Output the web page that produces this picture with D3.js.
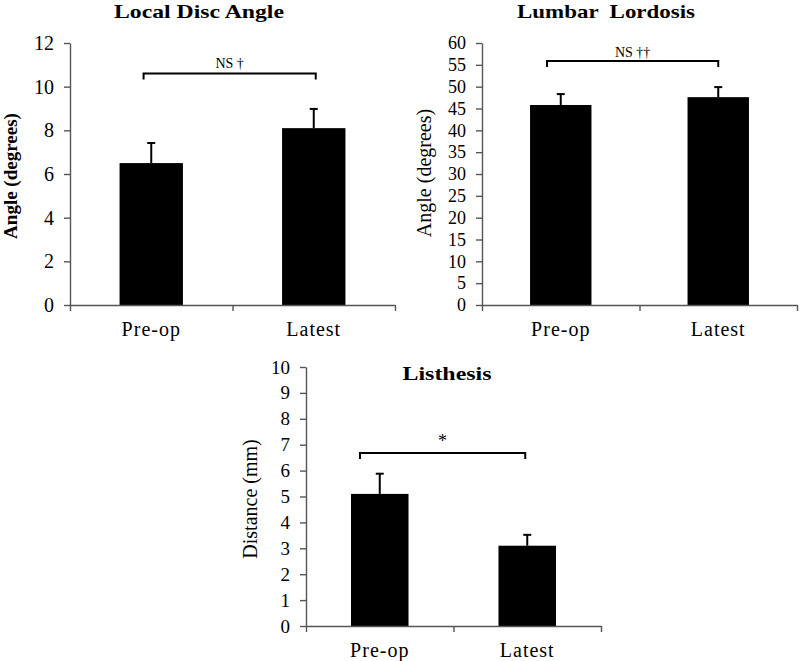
<!DOCTYPE html>
<html>
<head>
<meta charset="utf-8">
<script src="https://cdn.jsdelivr.net/npm/d3@7"></script>
<style>
  body { margin: 0; background: #fff; }
  svg { display: block; }
  .axis path, .axis line { stroke: #555; stroke-width: 1.4; }
</style>
</head>
<body>
<script>
// data
var categories = ["Pre-op", "Latest"];

var discMean = [6.5, 8.1];
var discErr = [0.92, 0.88];
var discTicks = [0, 2, 4, 6, 8, 10, 12];

var lordosisMean = [45.8, 47.6];
var lordosisErr = [2.5, 2.3];
var lordosisTicks = [0, 5, 10, 15, 20, 25, 30, 35, 40, 45, 50, 55, 60];

var listhesisMean = [5.1, 3.1];
var listhesisErr = [0.78, 0.42];
var listhesisTicks = [0, 1, 2, 3, 4, 5, 6, 7, 8, 9, 10];

var titles = ["Local Disc Angle", "Lumbar  Lordosis", "Listhesis"];
var yLabels = ["Angle (degrees)", "Angle (degrees)", "Distance (mm)"];
var brackets = [10.6, 55.9, 6.68];
var bracketText = ["NS \u2020", "NS \u2020\u2020", "*"];

var serif = '"Liberation Serif", "Times New Roman", serif';

var svg = d3.select("body").append("svg")
  .attr("width", 800)
  .attr("height", 661)
  .attr("font-family", serif);

// layout per panel
var panels = [
  {mean: discMean, err: discErr, ticks: discTicks, title: titles[0], yLabel: yLabels[0],
   bracket: brackets[0], bText: bracketText[0],
   x0: 70, x1: 395, yTop: 43, yBot: 305,
   titleX: 199, titleY: 18, titleLen: 170,
   labX: 17, labY: 176, labBold: true, labSize: 19, tickSize: 20,
   bL: 24, bR: 2, bTextY: 68, bTextSize: 14},
  {mean: lordosisMean, err: lordosisErr, ticks: lordosisTicks, title: titles[1], yLabel: yLabels[1],
   bracket: brackets[1], bText: bracketText[1],
   x0: 482, x1: 797, yTop: 43, yBot: 305,
   titleX: 606, titleY: 18, titleLen: 178,
   labX: 431, labY: 173, labBold: false, labSize: 20, tickSize: 18,
   bL: 17, bR: 0, bTextY: 57, bTextSize: 14},
  {mean: listhesisMean, err: listhesisErr, ticks: listhesisTicks, title: titles[2], yLabel: yLabels[2],
   bracket: brackets[2], bText: bracketText[2],
   x0: 306, x1: 601, yTop: 367, yBot: 626,
   titleX: 447, titleY: 380, titleLen: 89,
   labX: 257, labY: 499, labBold: false, labSize: 20, tickSize: 19,
   bL: 9, bR: -2, bTextY: 447, bTextSize: 18}
];

panels.forEach(function(p) {
  var g = svg.append("g");

  var x = d3.scaleBand().domain(categories).range([p.x0, p.x1]).padding(0);
  var xb = d3.scaleLinear().domain([0, 2]).range([p.x0, p.x1]);
  var y = d3.scaleLinear().domain([0, d3.max(p.ticks)]).range([p.yBot, p.yTop]);
  var bw = x.bandwidth() * 0.39;
  var cx = function(i) { return x(categories[i]) + x.bandwidth() / 2; };

  // bars
  g.selectAll(".bar")
    .data(p.mean)
    .enter().append("rect")
      .attr("x", function(d, i) { return cx(i) - bw / 2; })
      .attr("y", function(d) { return y(d); })
      .attr("width", bw)
      .attr("height", function(d) { return y(0) - y(d); })
      .attr("fill", "#000");

  // error bars (upper only)
  var eb = g.selectAll(".err")
    .data(p.mean)
    .enter().append("g");
  eb.append("line")
    .attr("x1", function(d, i) { return cx(i); })
    .attr("x2", function(d, i) { return cx(i); })
    .attr("y1", function(d) { return y(d); })
    .attr("y2", function(d, i) { return y(d + p.err[i]); })
    .attr("stroke", "#000").attr("stroke-width", 2);
  eb.append("line")
    .attr("x1", function(d, i) { return cx(i) - 4; })
    .attr("x2", function(d, i) { return cx(i) + 4; })
    .attr("y1", function(d, i) { return y(d + p.err[i]); })
    .attr("y2", function(d, i) { return y(d + p.err[i]); })
    .attr("stroke", "#000").attr("stroke-width", 2);

  // y axis
  g.append("g")
    .attr("class", "axis")
    .attr("transform", "translate(" + p.x0 + ",0)")
    .call(d3.axisLeft(y).tickValues(p.ticks).tickSize(6).tickSizeOuter(0).tickPadding(10))
    .attr("font-family", serif)
    .attr("font-size", p.tickSize)
    .selectAll("text")
      .attr("fill", "#000");

  // x axis line with ticks at band edges
  g.append("g")
    .attr("class", "axis")
    .attr("transform", "translate(0," + p.yBot + ")")
    .call(d3.axisBottom(xb).tickValues([0, 1, 2]).tickFormat("").tickSize(6).tickSizeOuter(0));

  // category labels
  var xl = g.append("g")
    .attr("transform", "translate(0," + p.yBot + ")")
    .call(d3.axisBottom(x).tickSize(0).tickPadding(17))
    .attr("font-family", serif)
    .attr("font-size", 20);
  xl.select(".domain").remove();
  xl.selectAll("text")
    .attr("letter-spacing", 1)
    .attr("fill", "#000");

  // title
  g.append("text")
    .attr("x", p.titleX)
    .attr("y", p.titleY)
    .attr("text-anchor", "middle")
    .attr("font-size", 19)
    .attr("font-weight", "bold")
    .attr("textLength", p.titleLen)
    .attr("lengthAdjust", "spacingAndGlyphs")
    .style("white-space", "pre")
    .text(p.title);

  // y label
  g.append("text")
    .attr("transform", "rotate(-90)")
    .attr("x", -p.labY)
    .attr("y", p.labX)
    .attr("text-anchor", "middle")
    .attr("font-size", p.labSize)
    .attr("font-weight", p.labBold ? "bold" : "normal")
    .text(p.yLabel);

  // significance bracket
  var bx0 = cx(0) - bw / 2 + p.bL;
  var bx1 = cx(1) + p.bR;
  var by = y(p.bracket);
  g.append("path")
    .attr("d", "M" + bx0 + "," + (by + 6) + "V" + by + "H" + bx1 + "V" + (by + 6))
    .attr("fill", "none")
    .attr("stroke", "#000")
    .attr("stroke-width", 2);
  g.append("text")
    .attr("x", (bx0 + bx1) / 2)
    .attr("y", p.bTextY)
    .attr("text-anchor", "middle")
    .attr("font-size", p.bTextSize)
    .text(p.bText);
});
</script>
</body>
</html>
